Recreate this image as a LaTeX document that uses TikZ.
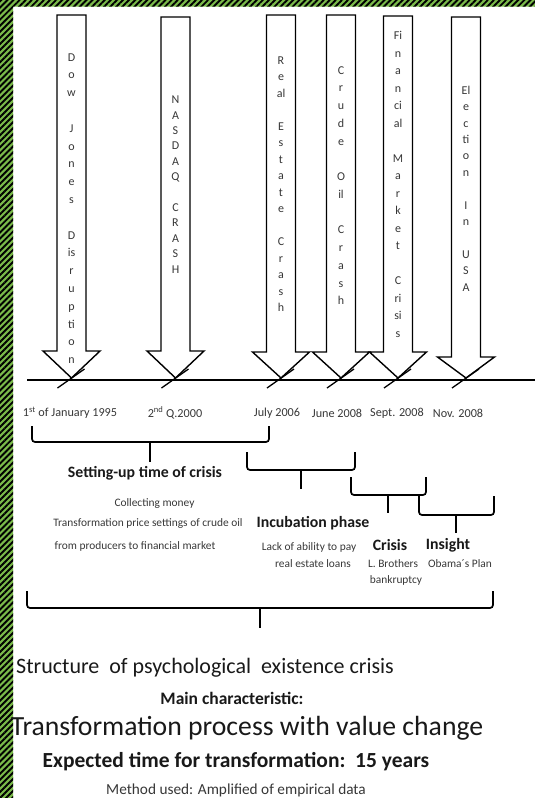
\documentclass[tikz,border=0pt]{standalone}
\usepackage{fontspec}
\setmainfont{Carlito}
\usetikzlibrary{patterns.meta,positioning,calc}
\definecolor{stripegreen}{RGB}{122,186,74}
\definecolor{txtgrey}{RGB}{55,55,55}
\definecolor{txtdark}{RGB}{25,25,25}

\tikzset{
  bigarrow/.style={draw=black, line width=1.4pt, fill=white, line join=miter},
  stack/.style={align=center, text=txtgrey, inner sep=0pt},
  date/.style={font=\fontsize{12.2}{12.2}\selectfont, text=txtgrey, inner sep=0pt},
  phase/.style={font=\bfseries\fontsize{15.8}{15.8}\selectfont, text=txtdark, inner sep=0pt},
  note/.style={font=\fontsize{11.4}{11.4}\selectfont, text=txtgrey, inner sep=0pt},
  bracket/.style={line width=1.7pt, rounded corners=3pt},
  timetick/.style={line width=1.3pt}
}

% #1 tip name, #2 centre x, #3 top y, #4 head base y
\newcommand{\CrisisArrow}[4]{%
  \draw[bigarrow] (#2-14.5,#3) -- (#2+14.5,#3) -- (#2+14.5,#4) -- (#2+28.5,#4)
    -- (#2,378) coordinate (#1) -- (#2-28.5,#4) -- (#2-14.5,#4) -- cycle;
  \draw[timetick] (#1) ++(-14,10) -- ++(27,-19);}

% #1 name, #2 left x, #3 right x, #4 top y, #5 bottom y, #6 middle x, #7 tick end y
\newcommand{\PhaseBracket}[7]{%
  \draw[bracket] (#2,#4) -- (#2,#5) -- (#3,#5) -- (#3,#4);
  \coordinate (#1) at (#6,#7);
  \draw[bracket, rounded corners=0pt] (#6,#5) -- (#1);}

\begin{document}
\begin{tikzpicture}[x=1pt, y=-1pt]
  \useasboundingbox (0,0) rectangle (535,798);
  \path[fill=stripegreen, postaction={pattern={Lines[angle=45,distance=4.3pt,line width=1.9pt]}, pattern color=black}]
    (0,0) rectangle (535,6.5) (0,0) rectangle (13,798);

  \coordinate (tl0) at (27,380);
  \coordinate (tl1) at (535,380);
  \draw[line width=1.3pt] (tl0) -- (tl1);

  \CrisisArrow{dow}{71.5}{15}{351}
  \CrisisArrow{nasdaq}{175.5}{17}{351}
  \CrisisArrow{realestate}{281}{15}{352}
  \CrisisArrow{crudeoil}{341}{15}{352}
  \CrisisArrow{financial}{398}{16}{352}
  \CrisisArrow{election}{466}{17}{357}

  \node[stack, font=\fontsize{12}{17.8}\selectfont] (dowtxt) at (71.5,208.5)
    {D\\o\\w\\\mbox{}\\J\\o\\n\\e\\s\\\mbox{}\\D\\is\\r\\u\\p\\ti\\o\\n};
  \node[stack, font=\fontsize{12}{15.4}\selectfont] (nasdaqtxt) at (175.5,184.5)
    {N\\A\\S\\D\\A\\Q\\\mbox{}\\C\\R\\A\\S\\H};
  \node[stack, font=\fontsize{12}{16.5}\selectfont] (realtxt) at (281,184)
    {R\\e\\al\\\mbox{}\\E\\s\\t\\a\\t\\e\\\mbox{}\\C\\r\\a\\s\\h};
  \node[stack, font=\fontsize{12}{17.75}\selectfont] (oiltxt) at (341,185.5)
    {C\\r\\u\\d\\e\\\mbox{}\\O\\il\\\mbox{}\\C\\r\\a\\s\\h};
  \node[stack, font=\fontsize{12}{17.5}\selectfont] (fintxt) at (398,184.5)
    {Fi\\n\\a\\n\\ci\\al\\\mbox{}\\M\\a\\r\\k\\e\\t\\\mbox{}\\C\\ri\\si\\s};
  \node[stack, font=\fontsize{12}{16.4}\selectfont] (electtxt) at (466,188.5)
    {El\\e\\c\\ti\\o\\n\\\mbox{}\\I\\n\\\mbox{}\\U\\S\\A};

  \node[date] (d1995) at (70,413) {1\textsuperscript{st} of January 1995};
  \node[date] (d2000) at (175,413) {2\textsuperscript{nd} Q.2000};
  \node[date] (d2006) at (277,413) {July 2006};
  \node[date] (d2008a) at (337,413) {June 2008};
  \node[date] (d2008b) at (397,413) {Sept. 2008};
  \node[date] (d2008c) at (458,413) {Nov. 2008};

  \PhaseBracket{setupend}{32}{269}{426}{442}{150}{462}
  \PhaseBracket{incubend}{247}{355}{452}{470}{301}{489}
  \PhaseBracket{crisisend}{351}{426}{477}{495}{388}{513}
  \PhaseBracket{insightend}{419}{494}{496}{515}{456}{533}
  \PhaseBracket{wholeend}{27}{493}{591}{608}{260}{628}

  \node[phase] (setup) at (145,473) {Setting-up time of crisis};
  \node[note] (collect) at (154.5,504) {Collecting money};
  \node[note] (pricing) at (148,524) {Transformation price settings of crude oil};
  \node[note] (producers) at (135,546) {from producers to financial market};

  \node[phase] (incub) at (313,523) {Incubation phase};
  \node[note] (lack) at (309,547) {Lack of ability to pay};
  \node[note] (loans) at (313,564) {real estate loans};

  \node[phase] (crisis) at (390,545) {Crisis};
  \node[note] (brothers) at (393,564) {L. Brothers};
  \node[note] (bankrupt) at (396,580) {bankruptcy};

  \node[phase] (insight) at (448,545) {Insight};
  \node[note] (obama) at (460,564) {Obama´s Plan};

  \node[text=txtdark, inner sep=0pt, font=\fontsize{22}{22}\selectfont] (structure) at (205,668)
    {Structure\ \ of psychological\ \ existence crisis};
  \node[text=txtdark, inner sep=0pt, font=\bfseries\fontsize{17.5}{17.5}\selectfont] (mainchar) at (232,698)
    {Main characteristic:};
  \node[text=txtdark, inner sep=0pt, font=\fontsize{27.7}{27.7}\selectfont] (process) at (247,728)
    {Transformation process with value change};
  \node[text=txtdark, inner sep=0pt, font=\bfseries\fontsize{21.5}{21.5}\selectfont] (expected) at (236,762)
    {Expected time for transformation:\ \ 15 years};
  \node[text=txtgrey, inner sep=0pt, font=\fontsize{15.3}{15.3}\selectfont] (method) at (236,790)
    {Method used: Amplified of empirical data};
\end{tikzpicture}
\end{document}
